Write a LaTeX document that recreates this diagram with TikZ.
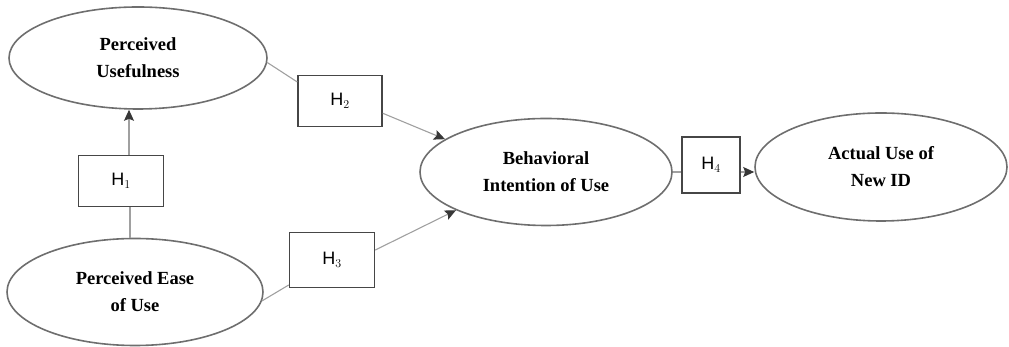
\documentclass[tikz,border=0pt]{standalone}
\usepackage{fontspec}
\setmainfont{Liberation Serif}
\newfontfamily\hfont{Liberation Sans}
\usetikzlibrary{shapes.geometric,arrows.meta}
\definecolor{ellcol}{RGB}{110,110,110}
\definecolor{boxcol}{RGB}{70,70,70}
\definecolor{linecol}{RGB}{160,160,160}
\definecolor{tipcol}{RGB}{55,55,55}
\tikzset{
  construct/.style={ellipse, draw=ellcol, line width=1.6pt, align=center,
    font=\fontsize{18.5}{27}\selectfont\bfseries, inner sep=0pt},
  hbox/.style={rectangle, draw=boxcol, line width=1.5pt, inner sep=0pt,
    font=\hfont\fontsize{18}{20}\selectfont},
  conn/.style={draw=linecol, line width=1.1pt},
  arr/.style={conn, -{Stealth[length=11pt,width=10pt,inset=2pt,fill=tipcol,color=tipcol]}}
}
\begin{document}
\begin{tikzpicture}[x=1pt,y=1pt]
\useasboundingbox (0,0) rectangle (1009,347);
\node[construct, minimum width=258pt, minimum height=102pt] (PU) at (138,289) {Perceived\\Usefulness};
\node[construct, minimum width=256pt, minimum height=107pt] (PEOU) at (135,55) {Perceived Ease\\of Use};
\node[construct, minimum width=252pt, minimum height=107pt] (BI) at (546,175) {Behavioral\\Intention of Use};
\node[construct, minimum width=252pt, minimum height=108pt] (AU) at (881,180) {Actual Use of\\New ID};
\node[hbox, minimum width=85pt, minimum height=51pt] (H1) at (121,166) {H$_1$};
\node[hbox, minimum width=84pt, minimum height=51pt] (H2) at (340,246) {H$_2$};
\node[hbox, minimum width=85pt, minimum height=55pt] (H3) at (332,87) {H$_3$};
\node[hbox, minimum width=58pt, minimum height=56pt] (H4) at (711,182) {H$_4$};
% H1
\draw[conn] ([xshift=9pt]H1.south) -- ([xshift=9pt]H1.south |- PEOU.north);
\draw[arr] ([xshift=8pt]H1.north) -- ([xshift=8pt]H1.north |- PU.south);
% H2
\draw[conn] (PU.-2) -- (H2.156);
\draw[arr] (H2.-16) -- (BI.162);
% H3
\draw[conn] (PEOU.-4) -- (H3.210);
\draw[arr] (H3.13) -- (BI.203);
% H4
\draw[conn] (BI.east) -- (BI.east -| H4.west);
\draw[arr] (BI.east -| H4.east) -- (BI.east -| AU.west);
\end{tikzpicture}
\end{document}
